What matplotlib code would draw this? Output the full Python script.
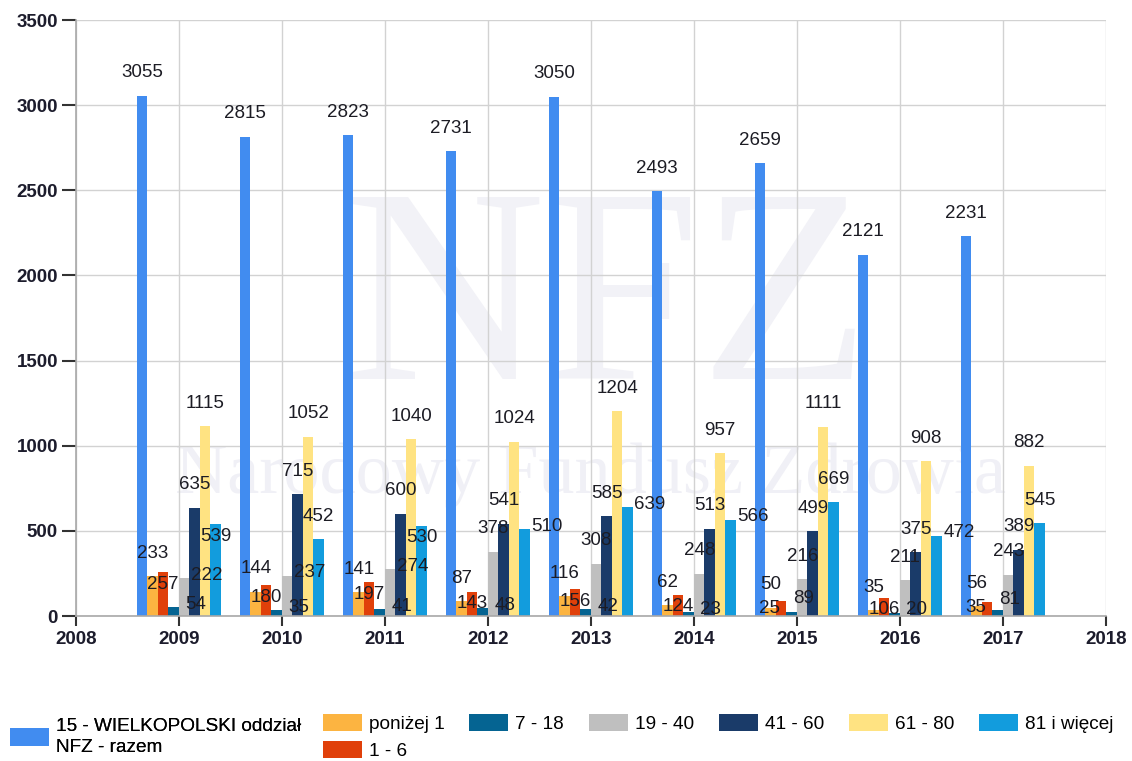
import numpy as np
import matplotlib.pyplot as plt
from matplotlib.patches import Patch

plt.rcParams['font.family'] = ['Liberation Sans', 'DejaVu Sans']

years = [2009, 2010, 2011, 2012, 2013, 2014, 2015, 2016, 2017]
series_names = ['15 - WIELKOPOLSKI oddział\nNFZ - razem', 'poniżej 1', '1 - 6', '7 - 18',
                '19 - 40', '41 - 60', '61 - 80', '81 i więcej']
razem = [3055, 2815, 2823, 2731, 3050, 2493, 2659, 2121, 2231]
ponizej_1 = [233, 144, 141, 87, 116, 62, 50, 35, 56]
wiek_1_6 = [257, 180, 197, 143, 156, 124, 89, 106, 81]
wiek_7_18 = [54, 35, 41, 48, 42, 23, 25, 20, 35]
wiek_19_40 = [222, 237, 274, 378, 308, 248, 216, 211, 243]
wiek_41_60 = [635, 715, 600, 541, 585, 513, 499, 375, 389]
wiek_61_80 = [1115, 1052, 1040, 1024, 1204, 957, 1111, 908, 882]
wiek_81 = [539, 452, 530, 510, 639, 566, 669, 472, 545]
series = [razem, ponizej_1, wiek_1_6, wiek_7_18, wiek_19_40, wiek_41_60, wiek_61_80, wiek_81]
colors = ['#418CF0', '#FCB441', '#E0400A', '#056492', '#BFBFBF', '#1A3B69', '#FFE382', '#129CDD']

# where each value label sits (T above, B inside top, R / L shifted beside)
label_pos = ['TTBRRTTB', 'TTBRRTTT', 'TTBRRTTB', 'TTBRTTTR', 'TTBRTTTR',
             'TTBRTTTR', 'TTRLTTTT', 'TTBRTTTR', 'TTRLTTTT']
pos_offset = {'T': (0, 16.5), 'B': (0, -8.5), 'R': (16, 2), 'L': (-16, 2)}

fig = plt.figure(figsize=(11.32, 7.61), dpi=100)
ax = fig.add_axes([0.0671, 0.1905, 0.9099, 0.7832])

# faint watermark
ax.text(0.516, 0.51, 'NFZ', transform=ax.transAxes, ha='center', va='center',
        fontsize=200, family='Liberation Serif', color='#F2F2F7', zorder=0)
ax.text(0.5, 0.237, 'Narodowy Fundusz Zdrowia', transform=ax.transAxes, ha='center',
        va='center', fontsize=52, family='Liberation Serif', color='#F0F0F6', zorder=0)

w = 0.102
x = np.array(years, dtype=float)
for i, (vals, c) in enumerate(zip(series, colors)):
    xs = x + (i - 3.5) * w
    ax.bar(xs, vals, width=w, color=c, zorder=2, label=series_names[i])
    for j, v in enumerate(vals):
        dx, dy = pos_offset[label_pos[j][i]]
        ax.annotate(str(v), (xs[j], v), xytext=(dx, dy), textcoords='offset points',
                    ha='center', va='center', fontsize=13.5, color='#1C1C24', zorder=5)

ax.set_xlim(2008, 2018)
ax.set_ylim(0, 3500)
ax.set_xticks(range(2008, 2019))
ax.set_yticks(range(0, 3501, 500))
ax.grid(True, color='#D2D2D2', lw=1, zorder=0)
ax.set_axisbelow(True)
for s in ['top', 'right']:
    ax.spines[s].set_visible(False)
for s in ['left', 'bottom']:
    ax.spines[s].set_color('#A8A8A8')
    ax.spines[s].set_linewidth(1.2)
ax.tick_params(direction='out', width=1.5, color='#333333', labelsize=13.5,
               labelcolor='#1C1C2C')
ax.tick_params(axis='x', length=7, pad=4)
ax.tick_params(axis='y', length=10, pad=3)
for lab in ax.get_xticklabels() + ax.get_yticklabels():
    lab.set_fontweight('bold')

handles = [Patch(facecolor=c) for c in colors]
leg_kw = dict(frameon=False, fontsize=13.7, handlelength=2.05, handleheight=1.0,
              handletextpad=0.37, borderaxespad=0)
leg_a = fig.legend([handles[0]], [series_names[0]], loc='center left',
                   bbox_to_anchor=(0.002, 0.0315), **leg_kw)
for t in leg_a.get_texts():
    t.set_linespacing(1.25)
fig.add_artist(leg_a)
fig.legend(handles[1:], series_names[1:], loc='center left', bbox_to_anchor=(0.2785, 0.0315),
           ncol=6, columnspacing=1.3, labelspacing=0.45, **leg_kw)

fig.savefig('out.png', dpi=100)
